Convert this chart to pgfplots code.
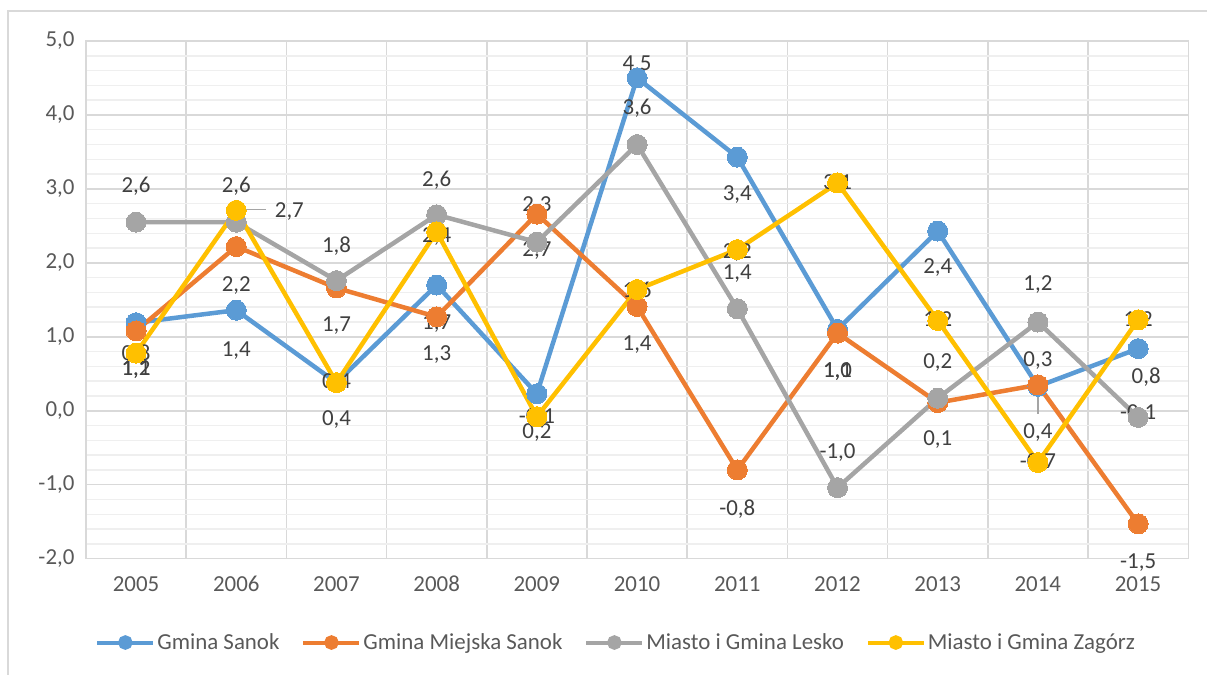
\documentclass[border=0pt]{standalone}
\usepackage{pgfplots}
\pgfplotsset{compat=1.18}
\usepackage{fontspec}
\setmainfont{Carlito}
\definecolor{cblue}{HTML}{5B9BD5}
\definecolor{corange}{HTML}{ED7D31}
\definecolor{cgray}{HTML}{A5A5A5}
\definecolor{cyellow}{HTML}{FFC000}
\definecolor{majgrid}{HTML}{D9D9D9}
\definecolor{mingrid}{HTML}{EFEFEF}
\definecolor{axtext}{HTML}{595959}
\definecolor{lbltext}{HTML}{404040}
\begin{document}
\begin{tikzpicture}
\path (0bp,0bp) rectangle (1208bp,-675bp);
\draw[majgrid, line width=1.5bp] (8bp,-675bp) -- (8bp,-11bp) -- (1208bp,-11bp);
\begin{axis}[
  at={(86bp,-559bp)}, anchor=south west,
  scale only axis, width=1103bp, height=518bp,
  xmin=2004.5, xmax=2015.5, ymin=-2, ymax=5,
  xtick={2005,...,2015},
  xticklabels={2005,2006,2007,2008,2009,2010,2011,2012,2013,2014,2015},
  minor xtick={2004.5,2005.5,...,2015.5},
  ytick={-2,-1,0,1,2,3,4,5},
  yticklabels={{-2,0},{-1,0},{0,0},{1,0},{2,0},{3,0},{4,0},{5,0}},
  minor ytick={-1.8,-1.6,...,4.9},
  ymajorgrids, yminorgrids, xminorgrids,
  major y grid style={majgrid, line width=1.5bp},
  minor y grid style={mingrid, line width=1.5bp},
  minor x grid style={majgrid, line width=1.5bp},
  axis line style={majgrid, line width=1.5bp},
  tick style={draw=none},
  xticklabel style={font=\fontsize{23}{27}\selectfont, text=axtext, text height=16bp, text depth=0bp, yshift=-13bp},
  yticklabel style={font=\fontsize{23}{27}\selectfont, text=axtext, xshift=-8bp},
  clip=false,
  legend columns=4,
  legend style={at={(0.481,-0.162)}, anchor=center, draw=none, fill=none,
    font=\fontsize{23}{27}\selectfont, text=axtext,
    /tikz/every even column/.append style={column sep=20bp},
    inner sep=0pt},
  legend image code/.code={%
    \draw[#1, line width=4bp] (0bp,0bp) -- (56bp,0bp);
    \fill[#1] (28bp,0bp) circle (5bp);},
  every axis plot/.append style={line width=4.5bp, mark=*, mark size=10bp},
]
\addplot[cblue, mark options={fill=cblue, draw=cblue, line width=0pt}] coordinates {
(2005,1.19) (2006,1.36) (2007,0.38) (2008,1.70) (2009,0.23) (2010,4.50)
(2011,3.43) (2012,1.10) (2013,2.43) (2014,0.33) (2015,0.84)};
\addlegendentry{Gmina Sanok}
\addplot[corange, mark options={fill=corange, draw=corange, line width=0pt}] coordinates {
(2005,1.08) (2006,2.22) (2007,1.66) (2008,1.27) (2009,2.66) (2010,1.41)
(2011,-0.80) (2012,1.05) (2013,0.11) (2014,0.35) (2015,-1.53)};
\addlegendentry{Gmina Miejska Sanok}
\addplot[cgray, mark options={fill=cgray, draw=cgray, line width=0pt}] coordinates {
(2005,2.55) (2006,2.55) (2007,1.76) (2008,2.65) (2009,2.28) (2010,3.60)
(2011,1.38) (2012,-1.04) (2013,0.17) (2014,1.20) (2015,-0.09)};
\addlegendentry{Miasto i Gmina Lesko}
\addplot[cyellow, mark options={fill=cyellow, draw=cyellow, line width=0pt}] coordinates {
(2005,0.78) (2006,2.71) (2007,0.38) (2008,2.42) (2009,-0.08) (2010,1.64)
(2011,2.18) (2012,3.08) (2013,1.22) (2014,-0.70) (2015,1.23)};
\addlegendentry{Miasto i Gmina Zag\'orz}
% leader lines
\draw[cgray, line width=1.5bp] (axis cs:2006,2.72) -- (axis cs:2006.3,2.72);
\draw[cgray, line width=1.5bp] (axis cs:2014,0.35) -- (axis cs:2014,-0.04);
% data labels
\begin{scope}[every node/.style={font=\fontsize{23}{27}\selectfont, text=lbltext, inner sep=0pt}]
\node at (axis cs:2005,3.03) {2,6};
\node at (axis cs:2005,0.76) {0,8};
\node at (axis cs:2005,0.56) {1,2};
\node at (axis cs:2005,0.56) {1,1};
\node at (axis cs:2006,3.03) {2,6};
\node at (axis cs:2006.53,2.69) {2,7};
\node at (axis cs:2006,1.69) {2,2};
\node at (axis cs:2006,0.82) {1,4};
\node at (axis cs:2007,2.23) {1,8};
\node at (axis cs:2007,1.15) {1,7};
\node at (axis cs:2007,0.38) {0,4};
\node at (axis cs:2007,-0.12) {0,4};
\node at (axis cs:2008,3.12) {2,6};
\node at (axis cs:2008,2.36) {2,4};
\node at (axis cs:2008,1.18) {1,7};
\node at (axis cs:2008,0.76) {1,3};
\node at (axis cs:2009,2.77) {2,3};
\node at (axis cs:2009,2.16) {2,7};
\node at (axis cs:2009,-0.09) {-0,1};
\node at (axis cs:2009,-0.29) {0,2};
\node at (axis cs:2010,4.68) {4,5};
\node at (axis cs:2010,4.09) {3,6};
\node at (axis cs:2010,1.61) {1,6};
\node at (axis cs:2010,0.89) {1,4};
\node at (axis cs:2011,2.92) {3,4};
\node at (axis cs:2011,2.14) {2,2};
\node at (axis cs:2011,1.86) {1,4};
\node at (axis cs:2011,-1.33) {-0,8};
\node at (axis cs:2012,3.07) {3,1};
\node at (axis cs:2012,0.53) {1,1};
\node at (axis cs:2012,0.53) {1,0};
\node at (axis cs:2012,-0.57) {-1,0};
\node at (axis cs:2013,1.93) {2,4};
\node at (axis cs:2013,1.22) {1,2};
\node at (axis cs:2013,0.65) {0,2};
\node at (axis cs:2013,-0.39) {0,1};
\node at (axis cs:2014,1.70) {1,2};
\node at (axis cs:2014,0.68) {0,3};
\node at (axis cs:2014,-0.30) {0,4};
\node at (axis cs:2014,-0.70) {-0,7};
\node at (axis cs:2015,1.22) {1,2};
\node at (axis cs:2015.08,0.46) {0,8};
\node at (axis cs:2015,-0.04) {-0,1};
\node at (axis cs:2015,-2.05) {-1,5};
\end{scope}
\end{axis}
\end{tikzpicture}
\end{document}
